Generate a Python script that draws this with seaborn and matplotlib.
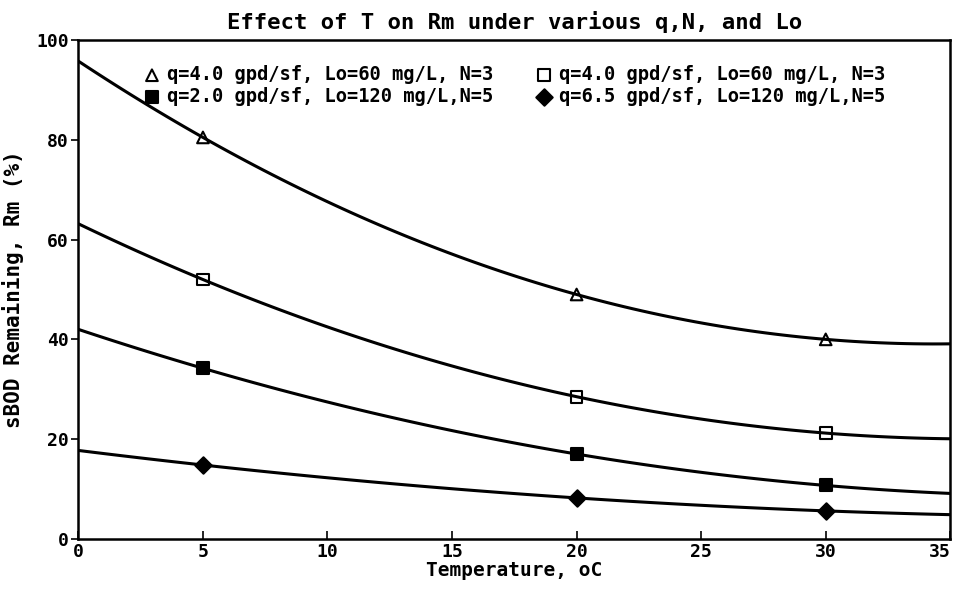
import matplotlib
matplotlib.use("Agg")
import matplotlib.pyplot as plt
import seaborn as sns
import numpy as np

# ---- data ----
temps = [5, 20, 30]
labels = [
    "q=4.0 gpd/sf, Lo=60 mg/L, N=3",
    "q=4.0 gpd/sf, Lo=60 mg/L, N=3",
    "q=2.0 gpd/sf, Lo=120 mg/L,N=5",
    "q=6.5 gpd/sf, Lo=120 mg/L,N=5",
]
rm_tri = [80.5, 49.0, 40.0]
rm_osq = [52.0, 28.5, 21.2]
rm_fsq = [34.2, 17.0, 10.7]
rm_dia = [14.8, 8.2, 5.6]
x_ticks = [0, 5, 10, 15, 20, 25, 30, 35]
y_ticks = [0, 20, 40, 60, 80, 100]

sns.set_style("ticks")
plt.rcParams["font.family"] = ["DejaVu Sans Mono"]
plt.rcParams["font.weight"] = "bold"
for k in ["text.color", "axes.labelcolor", "xtick.color", "ytick.color"]:
    plt.rcParams[k] = "black"

fig = plt.figure(figsize=(9.56, 6.0), dpi=100)
ax = fig.add_axes([0.082, 0.102, 0.912, 0.831])
ax.set_xlim(0, 35)
ax.set_ylim(0, 100)

series = [
    (rm_tri, "^", "none"),
    (rm_osq, "s", "none"),
    (rm_fsq, "s", "black"),
    (rm_dia, "D", "black"),
]
handles = []
for (vals, mk, fc), lab in zip(series, labels):
    sns.regplot(
        x=np.array(temps, dtype=float), y=np.array(vals), order=2, ci=None,
        truncate=False, marker=mk, ax=ax, label=lab,
        scatter_kws=dict(s=70, facecolors=fc, edgecolors="black",
                         linewidths=1.5, alpha=1, zorder=3),
        line_kws=dict(color="black", lw=2.2),
    )
    handles.append(ax.collections[-1])

ax.set_xlim(0, 35)
ax.set_ylim(0, 100)
ax.set_xticks(x_ticks)
ax.set_yticks(y_ticks)
ax.tick_params(axis="x", direction="in", length=6, width=1.2, labelsize=13, pad=3)
ax.tick_params(axis="y", direction="out", length=5, width=1.2, labelsize=13, pad=2)
ax.get_xticklabels()[-1].set_horizontalalignment("right")
for sp in ax.spines.values():
    sp.set_visible(True)
    sp.set_color("black")
    sp.set_linewidth(1.8)

ax.set_title("Effect of T on Rm under various q,N, and Lo",
             fontsize=16, fontweight="bold", pad=8)
ax.set_xlabel("Temperature, oC", fontsize=14, fontweight="bold", labelpad=0)
ax.set_ylabel("sBOD Remaining, Rm (%)", fontsize=15, fontweight="bold")
ax.yaxis.set_label_coords(-0.062, 0.5)

# row-wise order: (tri, open sq) / (filled sq, diamond)
order = [0, 2, 1, 3]
leg = ax.legend([handles[i] for i in order], [labels[i] for i in order],
                ncol=2, loc="upper left", bbox_to_anchor=(0.065, 0.965),
                frameon=False, fontsize=13.5, handletextpad=0.3,
                columnspacing=2.2, labelspacing=0.15, handlelength=1.0,
                borderaxespad=0)

fig.savefig("out.png", dpi=100, facecolor="white")
